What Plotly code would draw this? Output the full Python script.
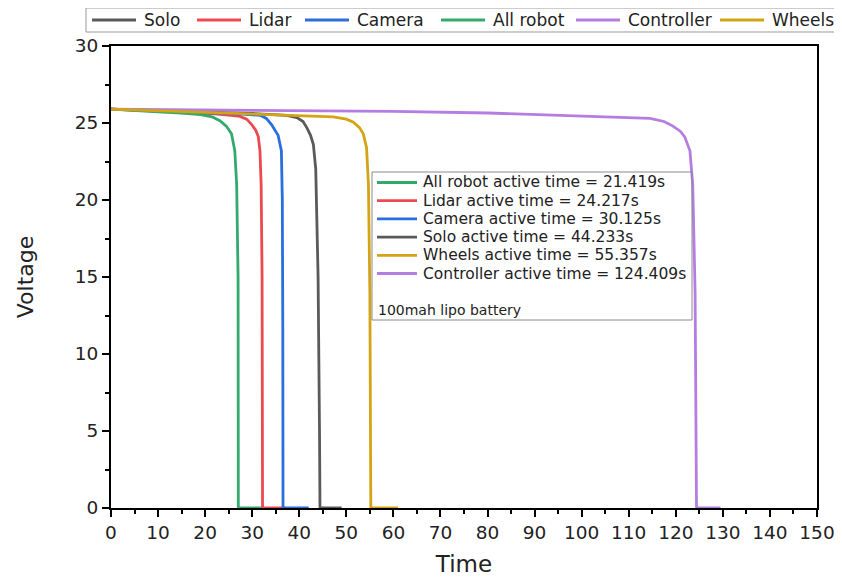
import plotly.graph_objects as go

# ---- data ----
solo_x = [0, 10, 20, 30, 37.3, 39.5, 40.8, 41.6, 42.4, 43.0, 43.5, 44.0, 44.3, 44.4, 49]
solo_y = [25.9, 25.82, 25.72, 25.62, 25.5, 25.35, 25.1, 24.7, 24.2, 23.6, 22.0, 15.0, 5.0, 0, 0]

lidar_x = [0, 8, 15, 22, 25.5, 27.4, 28.8, 29.9, 30.8, 31.3, 31.65, 31.9, 32.1, 32.2, 37]
lidar_y = [25.9, 25.8, 25.7, 25.6, 25.5, 25.43, 25.25, 24.9, 24.5, 24.1, 23.2, 21.0, 15.0, 0, 0]

camera_x = [0, 10, 20, 28, 31.7, 33.0, 34.1, 35.0, 35.5, 36.2, 36.4, 36.5, 36.55, 42]
camera_y = [25.9, 25.8, 25.68, 25.58, 25.5, 25.3, 24.9, 24.5, 24.2, 23.2, 20.0, 12.0, 0, 0]

allrobot_x = [0, 5, 10, 15, 19, 21.5, 23.2, 24.5, 25.6, 26.3, 26.7, 27.0, 27.05, 32]
allrobot_y = [25.9, 25.8, 25.72, 25.65, 25.55, 25.4, 25.13, 24.8, 24.3, 23.2, 21.0, 15.0, 0, 0]

controller_x = [0, 20, 40, 60, 80, 104, 114.5, 117.5, 119.4, 121.0, 121.9, 123.0, 123.6, 124.1, 124.4, 129.5]
controller_y = [25.9, 25.85, 25.8, 25.75, 25.65, 25.4, 25.3, 25.1, 24.8, 24.45, 24.1, 23.2, 21.0, 14.0, 0, 0]

wheels_x = [0, 10, 20, 30, 40, 47.2, 50, 51.5, 52.8, 53.6, 54.3, 54.7, 55.0, 55.2, 61]
wheels_y = [25.9, 25.8, 25.7, 25.62, 25.52, 25.4, 25.25, 25.05, 24.7, 24.3, 23.4, 21.0, 14.0, 0, 0]

series_names = ["Solo", "Lidar", "Camera", "All robot", "Controller", "Wheels"]
series_x = [solo_x, lidar_x, camera_x, allrobot_x, controller_x, wheels_x]
series_y = [solo_y, lidar_y, camera_y, allrobot_y, controller_y, wheels_y]
colors = ["#5a5a5a", "#ec4a50", "#2a6fdc", "#34a96c", "#b57de2", "#d4a414"]

inset_labels = ["All robot active time = 21.419s", "Lidar active time = 24.217s",
                "Camera active time = 30.125s", "Solo active time = 44.233s",
                "Wheels active time = 55.357s", "Controller active time = 124.409s"]
inset_series = ["All robot", "Lidar", "Camera", "Solo", "Wheels", "Controller"]
note_text = "100mah lipo battery"

x_ticks = list(range(0, 151, 10))
y_ticks = list(range(0, 31, 5))

FONT = "DejaVu Sans, sans-serif"

fig = go.Figure()
for name, xs, ys, c in zip(series_names, series_x, series_y, colors):
    fig.add_trace(go.Scatter(x=xs, y=ys, mode="lines", name=name,
                             line=dict(color=c, width=2.8), showlegend=False))

# ---- legend layout helpers (screen-pixel frame of the plot area -> paper coords) ----
PL, PW, PB, PH = 111, 706, 508, 462
def px(v): return (v - PL) / PW
def py(v): return (PB - v) / PH

color_of = dict(zip(series_names, colors))
shapes, annotations = [], []

# top legend box
shapes.append(dict(type="rect", xref="paper", yref="paper",
                   x0=px(86), x1=px(840), y0=py(32), y1=py(8),
                   line=dict(color="#9a9a9a", width=1), fillcolor="white"))
top_line_start = [92, 197, 305, 441, 576, 720]
top_line_len = 44
for name, x0 in zip(series_names, top_line_start):
    shapes.append(dict(type="line", xref="paper", yref="paper",
                       x0=px(x0), x1=px(x0 + top_line_len), y0=py(20), y1=py(20),
                       line=dict(color=color_of[name], width=2.8)))
    annotations.append(dict(text=name, xref="paper", yref="paper",
                            x=px(x0 + top_line_len + 6), y=py(20.5),
                            xanchor="left", yanchor="middle", showarrow=False,
                            font=dict(size=17, color="#222")))

# inset legend box
shapes.append(dict(type="rect", xref="paper", yref="paper",
                   x0=px(372), x1=px(692), y0=py(320), y1=py(172),
                   line=dict(color="#8a8a8a", width=1), fillcolor="rgba(0,0,0,0)"))
row0, gap = 182.5, 18.2
for i, (lab, s) in enumerate(zip(inset_labels, inset_series)):
    yy = py(row0 + i * gap)
    shapes.append(dict(type="line", xref="paper", yref="paper",
                       x0=px(377), x1=px(417), y0=yy, y1=yy,
                       line=dict(color=color_of[s], width=2.8)))
    annotations.append(dict(text=lab, xref="paper", yref="paper", x=px(421), y=yy,
                            xanchor="left", yanchor="middle", showarrow=False,
                            font=dict(size=15.5, color="#222")))
annotations.append(dict(text=note_text, xref="paper", yref="paper", x=px(376), y=py(310),
                        xanchor="left", yanchor="middle", showarrow=False,
                        font=dict(size=14, color="#222")))

# page has an 8px body margin: figure is 834x569 so it ends at the window edge
fig.update_layout(
    width=834, height=569,
    margin=dict(l=103, r=25, t=38, b=69, autoexpand=False),
    paper_bgcolor="white", plot_bgcolor="white",
    font=dict(family=FONT, color="#222", size=16),
    showlegend=False,
    xaxis=dict(range=[0, 150], tickvals=x_ticks, ticks="outside", ticklen=7, tickwidth=2,
               tickcolor="black", showline=True, linecolor="black", linewidth=2,
               mirror=True, showgrid=False, zeroline=False,
               tickfont=dict(size=18.5, color="#222"),
               minor=dict(ticks="outside", ticklen=4, tickwidth=2, dtick=5, tick0=0,
                          tickcolor="black", showgrid=False),
               title=dict(text="Time", font=dict(size=23), standoff=31)),
    yaxis=dict(range=[0, 30], tickvals=y_ticks, ticks="outside", ticklen=7, tickwidth=2,
               tickcolor="black", showline=True, linecolor="black", linewidth=2,
               mirror=True, showgrid=False, zeroline=False,
               tickfont=dict(size=18.5, color="#222"),
               minor=dict(ticks="outside", ticklen=4, tickwidth=2, dtick=2.5, tick0=0,
                          tickcolor="black", showgrid=False),
               title=dict(text="Voltage", font=dict(size=22), standoff=35)),
    shapes=shapes,
    annotations=annotations,
)

fig.write_html("out.html")
